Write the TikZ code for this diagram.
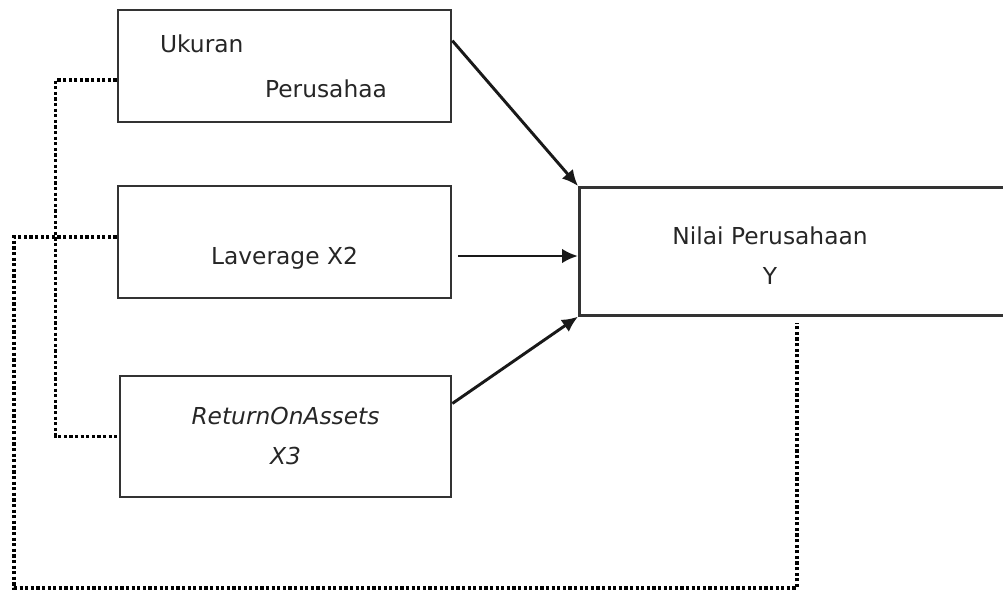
\documentclass[tikz,border=0pt]{standalone}
\usepackage{fontspec}
\setmainfont{DejaVu Sans}
\usetikzlibrary{calc,positioning,arrows.meta}

\begin{document}
\begin{tikzpicture}[x=0.75pt, y=-0.75pt, >={Latex[length=12pt,width=11pt]},
  font=\fontsize{17.5}{30}\selectfont,
  var/.style={draw=black!80, line width=2pt, align=center, inner sep=0pt,
              text=black!85},
  pfeil/.style={->, line width=2.2pt, black!90},
  titik/.style={line width=2.4pt, dash pattern=on 2.4pt off 1.8pt}]

\clip (0,0) rectangle (1003,592);

% variabel bebas
\node[var, align=left, minimum width=249.75pt, minimum height=84pt]
  (ukuran) at (284.5,66)
  {Ukuran\\[3.75pt]\hspace*{78.75pt}Perusahaa\hspace*{16.5pt}};
\node[var, minimum width=249.75pt, minimum height=84pt]
  (lav) at (284.5,242) {\mbox{}\\[7.5pt]Laverage X2};
\node[var, minimum width=248.25pt, minimum height=90.75pt]
  (roa) at (285.5,436.5) {\itshape ReturnOnAssets\\\itshape X3};

% variabel terikat
\node[var, minimum width=330pt, minimum height=96pt, anchor=north west]
  (nilai) at (578,186) {};
\node[align=center, text=black!85] (nilaiteks) at (770,256) {Nilai Perusahaan\\Y};

\draw[pfeil] ($(ukuran.north east)+(0,32)$) -- (nilai.north west);
\coordinate (levout) at ($(lav.east)+(6,14)$);
\draw[pfeil] (levout) -- (levout -| nilai.west);
\draw[pfeil] ($(roa.east)+(0,-33)$) -- (nilai.south west);

% garis titik-titik
\draw[titik] ($(ukuran.west)+(0,14)$) -| ($(roa.west)+(-63,0)$) -- (roa.west);
\coordinate (pojok) at (14,588);
\draw[titik] ($(lav.west)+(0,-5)$) -| (pojok) -| ($(nilai.south west)+(219,6)$);
\end{tikzpicture}
\end{document}
